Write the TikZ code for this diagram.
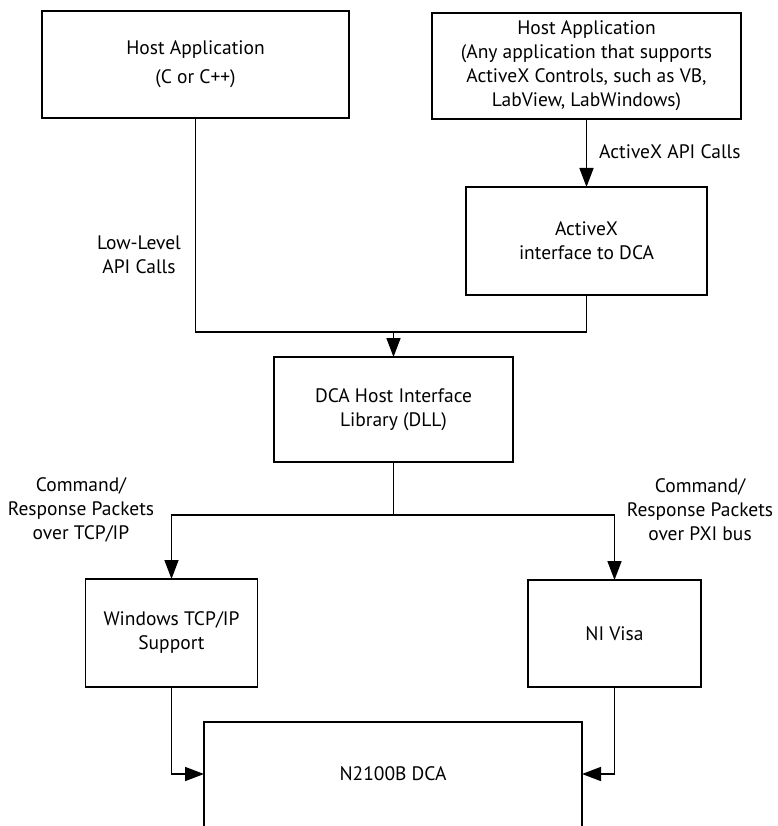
\documentclass[tikz,border=0pt]{standalone}
\usepackage{fontspec}
\setmainfont{PT Sans}
\usetikzlibrary{arrows.meta}
\begin{document}
\begin{tikzpicture}[x=1pt,y=-1pt,
  txt/.style={font=\fontsize{19.5}{24}\selectfont, align=center},
  box/.style={txt, draw, line width=1.6pt, inner sep=0pt, outer sep=0pt},
  lbl/.style={txt, inner sep=0pt},
  conn/.style={line width=1.6pt},
  arr/.style={conn, -{Triangle[length=19pt,width=14pt]}}]
\useasboundingbox (0,0) rectangle (777,826);
\node[box, minimum width=307pt, minimum height=107pt] (h1) at (195.5,64.5) {Host Application\\[5pt](C or C++)};
\node[box, minimum width=309pt, minimum height=106pt] (h2) at (586.5,66) {Host Application\\(Any application that supports\\ActiveX Controls, such as VB,\\LabView, LabWindows)};
\node[box, minimum width=241pt, minimum height=108pt] (ax) at (586.5,241) {ActiveX\\interface to DCA};
\node[box, minimum width=239pt, minimum height=105pt] (dll) at (393.5,409.5) {DCA Host Interface\\Library (DLL)};
\node[box, minimum width=172pt, minimum height=108pt] (win) at (171.5,633) {Windows TCP/IP\\Support};
\node[box, minimum width=173pt, minimum height=107pt] (ni) at (614.5,633.5) {NI Visa};
\node[box, draw=none, minimum width=378pt, minimum height=104pt] (dca) at (393,774) {N2100B DCA};
\draw[conn] (dca.south west) -- (dca.north west) -- (dca.north east) -- (dca.south east);

\coordinate (j) at (393.5,332);
\coordinate (k) at (393.5,515);
\draw[conn] (h1.south) -- (h1.south |- j) -- (ax.south |- j) -- (ax.south);
\draw[arr] (j) -- (dll.north);
\draw[arr] (h2.south) -- (ax.north);
\draw[conn] (dll.south) -- (k);
\draw[arr] (k) -| (win.north);
\draw[arr] (k) -| (ni.north);
\draw[arr] (win.south) |- (dca.west);
\draw[arr] (ni.south) |- (dca.east);

\node[lbl] (l1) at (139,255) {Low-Level\\API Calls};
\node[lbl, anchor=west] (l2) at (599,152) {ActiveX API Calls};
\node[lbl] (l3) at (81,510) {Command/\\Response Packets\\over TCP/IP};
\node[lbl] (l4) at (700,510) {Command/\\Response Packets\\over PXI bus};
\end{tikzpicture}
\end{document}
